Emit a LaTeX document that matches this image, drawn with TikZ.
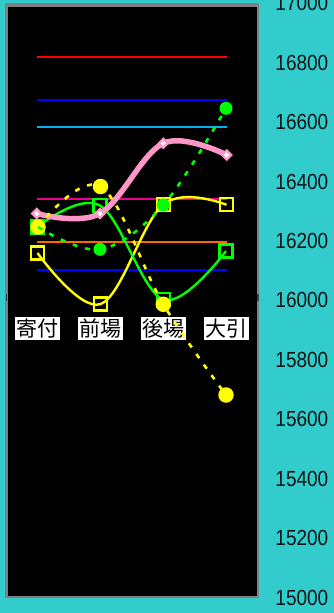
\documentclass[tikz,border=0pt]{standalone}
\usepackage{fontspec}
\setmainfont{Liberation Sans}
\newfontfamily\jpfont{Noto Sans CJK JP}
\usetikzlibrary{shapes.geometric}
\definecolor{bgturq}{RGB}{51,204,204}
\definecolor{frameg}{RGB}{128,128,128}
\definecolor{hcyan}{RGB}{0,180,240}
\definecolor{horange}{RGB}{255,102,0}
\definecolor{pinkc}{RGB}{255,150,200}
\definecolor{ylw}{RGB}{255,255,0}
\definecolor{grn}{RGB}{0,255,0}
\definecolor{txt}{RGB}{20,20,20}
\begin{document}
\begin{tikzpicture}[x=1pt,y=-1pt,
  hline/.style={line width=2.2pt},
  solidser/.style={line width=2.4pt},
  dashser/.style={line width=2.6pt, dash pattern=on 5pt off 8pt},
  sqmark/.style={draw, line width=2.3pt, rectangle, inner sep=0pt, minimum size=13pt},
  dotmark/.style={circle, inner sep=0pt, draw=none},
  dmmark/.style={diamond, draw=pinkc, fill=white, line width=2.2pt, inner sep=0pt, minimum width=10pt, minimum height=10pt},
  axlab/.style={anchor=east, text=txt, inner sep=0pt, font=\fontsize{19}{19}\selectfont},
  catlab/.style={fill=white, text=black, inner sep=0pt, minimum width=45pt, minimum height=23pt, font=\jpfont\fontsize{21}{21}\selectfont}]
\useasboundingbox (0,0) rectangle (334,613);
\fill[bgturq] (0,0) rectangle (334,613);
\fill[frameg] (5,3.3) rectangle (259,598.3);
\fill[black] (8,6.7) rectangle (256.5,595.5);
\fill[black!75] (5.6,294) rectangle (7.4,301);
\fill[black!75] (256.8,294) rectangle (258.6,301);
% horizontal reference lines
\draw[hline, red] (37,56.7) -- (227,56.7);
\draw[hline, blue] (37,100) -- (227,100);
\draw[hline, hcyan] (37,127.3) -- (227,127.3);
\draw[hline, magenta] (37,199) -- (227,199);
\draw[hline, horange] (37,242.3) -- (227,242.3);
\draw[hline, blue] (37,270) -- (227,270);
% axis labels
\foreach \v [count=\k from 0] in {17000,16800,16600,16400,16200,16000,15800,15600,15400,15200,15000}
  \node[axlab] (ax\k) at (328.5,{3.4+\k*59.41}) {\scalebox{1}[1.15]{\v}};
% category labels
\node[catlab] (lb1) at (37.5,328.5) {寄付};
\node[catlab] (lb2) at (100.8,328.5) {前場};
\node[catlab] (lb3) at (163,328.5) {後場};
\node[catlab] (lb4) at (226.7,328.5) {大引};
% data points
\coordinate (y1) at (37.5,253);
\coordinate (y2) at (100.8,304);
\coordinate (y3) at (163.5,204.3);
\coordinate (y4) at (226.5,204.8);
\coordinate (g1) at (37.5,227);
\coordinate (g2) at (100,205.5);
\coordinate (g3) at (163.3,299.5);
\coordinate (g4) at (226,251);
\coordinate (p1) at (36.7,213.5);
\coordinate (p2) at (100,213.5);
\coordinate (p3) at (163.3,143.3);
\coordinate (p4) at (226.7,155);
\coordinate (c1) at (38,227);
\coordinate (c2) at (100.5,186.5);
\coordinate (c3) at (163.3,304.3);
\coordinate (c4) at (226,395);
\coordinate (d1) at (38,227);
\coordinate (d2) at (100,249.3);
\coordinate (d3) at (163.3,205);
\coordinate (d4) at (226,108.3);
% yellow solid series
\draw[solidser, ylw] plot[smooth, tension=0.6] coordinates {(y1) (y2) (y3) (y4)};
\foreach \i in {1,...,4} \node[sqmark, draw=ylw] (my\i) at (y\i) {};
% green solid series
\draw[solidser, grn] plot[smooth, tension=0.6] coordinates {(g1) (g2) (g3) (g4)};
\foreach \i in {1,...,4} \node[sqmark, draw=grn] (mg\i) at (g\i) {};
% pink series
\draw[line width=5.5pt, pinkc, line cap=round] plot[smooth, tension=0.6] coordinates {(p1) (p2) (p3) (p4)};
\foreach \i in {1,...,4} \node[dmmark] (mp\i) at (p\i) {};
% yellow dashed series
\draw[dashser, ylw] plot[smooth, tension=0.6] coordinates {(c1) (c2) (c3) (c4)};
\foreach \i in {1,...,4} \node[dotmark, fill=ylw, minimum size=15.5pt] (mc\i) at (c\i) {};
% green dashed series
\draw[dashser, grn] plot[smooth, tension=0.6] coordinates {(d1) (d2) (d3) (d4)};
\foreach \i in {2,...,4} \node[dotmark, fill=grn, minimum size=13pt] (md\i) at (d\i) {};
\end{tikzpicture}
\end{document}
